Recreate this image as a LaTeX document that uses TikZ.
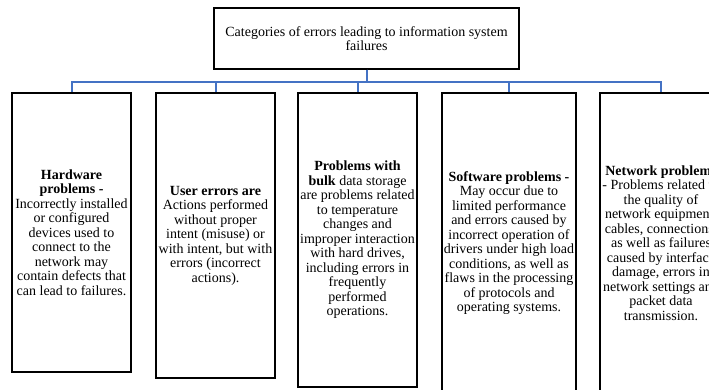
\documentclass[tikz,border=0pt]{standalone}
\usepackage{fontspec}
\setmainfont{Liberation Serif}
\usepackage{xcolor}
\usepackage{tikz}
\definecolor{linkblue}{RGB}{68,114,196}

\begin{document}
\begin{tikzpicture}[x=1pt,y=-1pt,
            box/.style={draw=black,line width=1.4pt,rectangle,align=center,
                inner sep=1pt,font=\fontsize{14}{14.5}\selectfont},
            link/.style={draw=linkblue,line width=2pt}]
        \useasboundingbox (0,0) rectangle (709,389);
        \clip (0,0) rectangle (709,389);

        \node[box,minimum width=305pt,minimum height=61pt,
            font=\fontsize{14}{14}\selectfont] (T) at (366.5,38.5)
            {Categories of errors leading to information system\\failures};

        \node[box,minimum width=119pt,minimum height=279pt] (H) at (71.5,232.5)
            {\textbf{Hardware}\\\textbf{problems -}\\Incorrectly installed\\or configured\\devices used to\\connect to the\\network may\\contain defects that\\can lead to failures.};
        \node[box,minimum width=119pt,minimum height=285pt] (U) at (215.5,235.5)
            {\textbf{User errors are}\\Actions performed\\without proper\\intent (misuse) or\\with intent, but with\\errors (incorrect\\actions).};
        \node[box,minimum width=119pt,minimum height=294pt] (B) at (357.5,240)
            {\textbf{Problems with}\\\textbf{bulk} data storage\\are problems related\\to temperature\\changes and\\improper interaction\\with hard drives,\\including errors in\\frequently\\performed\\operations.};
        \node[box,minimum width=134pt,minimum height=300pt] (S) at (509,243)
            {\textbf{Software problems -}\\May occur due to\\limited performance\\and errors caused by\\incorrect operation of\\drivers under high load\\conditions, as well as\\flaws in the processing\\of protocols and\\operating systems.};
        \node[box,minimum width=122pt,minimum height=300pt] (N) at (661,243)
            {\textbf{Network problems}\\- Problems related to\\the quality of\\network equipment,\\cables, connections,\\as well as failures\\caused by interface\\damage, errors in\\network settings and\\packet data\\transmission.};

        % tree lines
        \draw[link] (T.south) -- ++(0,12) -| (H.north);
        \draw[link] (T.south) -- ++(0,12) -| (U.north);
        \draw[link] (T.south) -- ++(0,12) -| (B.north);
        \draw[link] (T.south) -- ++(0,12) -| (S.north);
        \draw[link] (T.south) -- ++(0,12) -| (N.north);
    \end{tikzpicture}
\end{document}
